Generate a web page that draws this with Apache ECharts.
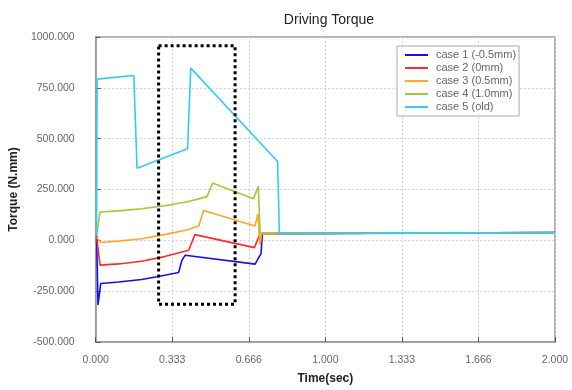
<!DOCTYPE html>
<html><head><meta charset="utf-8">
<script src="https://cdn.jsdelivr.net/npm/echarts@6/dist/echarts.min.js"></script>
<style>html,body{margin:0;padding:0;background:#fff}#c{width:572px;height:390px}</style>
</head><body><div id="c"></div>
<script>
var xTickLabels = ['0.000','0.333','0.666','1.000','1.333','1.666','2.000'];
var seriesNames = ['case 1 (-0.5mm)','case 2 (0mm)','case 3 (0.5mm)','case 4 (1.0mm)','case 5 (old)'];
var seriesColors = ['#1010f0','#ff2a2a','#ffa528','#9acd32','#2fcdf5'];

var case1 = [[0.004,24],[0.010,-318],[0.022,-212],[0.1,-205],[0.2,-193],[0.267,-179],[0.361,-158],[0.375,-100],[0.39,-73],[0.694,-117],[0.72,-65],[0.726,33],[1.2,35],[2.0,38]];
var case2 = [[0.004,17],[0.019,-122],[0.1,-116],[0.2,-103],[0.3,-80],[0.405,-49],[0.432,28],[0.691,-36],[0.716,33],[1.2,35],[2.0,38]];
var case3 = [[0.004,17],[0.022,-11],[0.1,-4],[0.2,8],[0.3,28],[0.4,52],[0.449,70],[0.47,147],[0.694,70],[0.706,130],[0.716,-25],[0.722,33],[1.2,35],[2.0,38]];
var case4 = [[0.004,24],[0.019,139],[0.1,145],[0.2,155],[0.3,170],[0.4,190],[0.485,215],[0.509,282],[0.687,204],[0.708,266],[0.716,33],[1.2,35],[2.0,38]];
var case5 = [[0.004,20],[0.006,793],[0.014,787],[0.166,811],[0.180,355],[0.400,451],[0.414,847],[0.420,843],[0.792,388],[0.800,32],[1.2,34],[2.0,38]];
var highlightBox = [[0.274,957],[0.607,957],[0.607,-314],[0.274,-314],[0.274,957]];

var allData = [case1, case2, case3, case4, case5];
var chart = echarts.init(document.getElementById('c'));
var series = allData.map(function(d,i){
  return {name: seriesNames[i], type:'line', data:d, showSymbol:false, symbol:'none',
    lineStyle:{color:seriesColors[i], width:1.6}, itemStyle:{color:seriesColors[i]}, z: 2+i, animation:false};
});
series.push({name:'box', type:'line', data:highlightBox, showSymbol:false, symbol:'none',
  lineStyle:{color:'#000', width:3, type:[3,3]}, z:10, animation:false});

chart.setOption({
  backgroundColor:'#fff',
  animation:false,
  title:{text:'Driving Torque', left:324, top:8, textAlign:'center',
    textStyle:{fontFamily:'Liberation Sans', fontSize:14, fontWeight:'normal', color:'#222'}},
  legend:{data:seriesNames, orient:'vertical', left:397, top:46, icon:'rect', itemWidth:23, itemHeight:2,
    itemGap:1, padding:[3,3,3,8], backgroundColor:'#fff', borderColor:'#aaa', borderWidth:1,
    textStyle:{fontFamily:'Liberation Sans', fontSize:11, color:'#666', lineHeight:12, padding:[0,0,0,3]}},
  grid:{left:93, right:17, top:37, bottom:46, show:true, borderColor:'#999', borderWidth:1.5, backgroundColor:'#fff'},
  xAxis:{type:'value', min:0, max:2, interval:1/3,
    name:'Time(sec)', nameLocation:'middle', nameGap:31,
    nameTextStyle:{fontFamily:'Liberation Sans', fontSize:12, fontWeight:'bold', color:'#222'},
    axisLine:{show:true, onZero:false, lineStyle:{color:'#999', width:1.5}},
    axisTick:{show:true, inside:true, length:5, lineStyle:{color:'#555'}},
    axisLabel:{margin:13, fontFamily:'Liberation Sans', fontSize:10.5, color:'#666',
      formatter:function(v){ return xTickLabels[Math.round(v*3)]; }},
    splitLine:{show:true, lineStyle:{color:'#d0d0d0', type:[2,2], width:1}}},
  yAxis:{type:'value', min:-500, max:1000, interval:250,
    name:'Torque (N.mm)', nameLocation:'middle', nameGap:71, nameRotate:90,
    nameTextStyle:{fontFamily:'Liberation Sans', fontSize:12, fontWeight:'bold', color:'#222'},
    axisLine:{show:true, onZero:false, lineStyle:{color:'#999', width:1.5}},
    axisTick:{show:true, inside:true, length:5, lineStyle:{color:'#555'}},
    axisLabel:{margin:21, fontFamily:'Liberation Sans', fontSize:10.5, color:'#666',
      formatter:function(v){ return v.toFixed(3); }},
    splitLine:{show:true, lineStyle:{color:'#d0d0d0', type:[2,2], width:1}}},
  series: series
});
</script></body></html>
